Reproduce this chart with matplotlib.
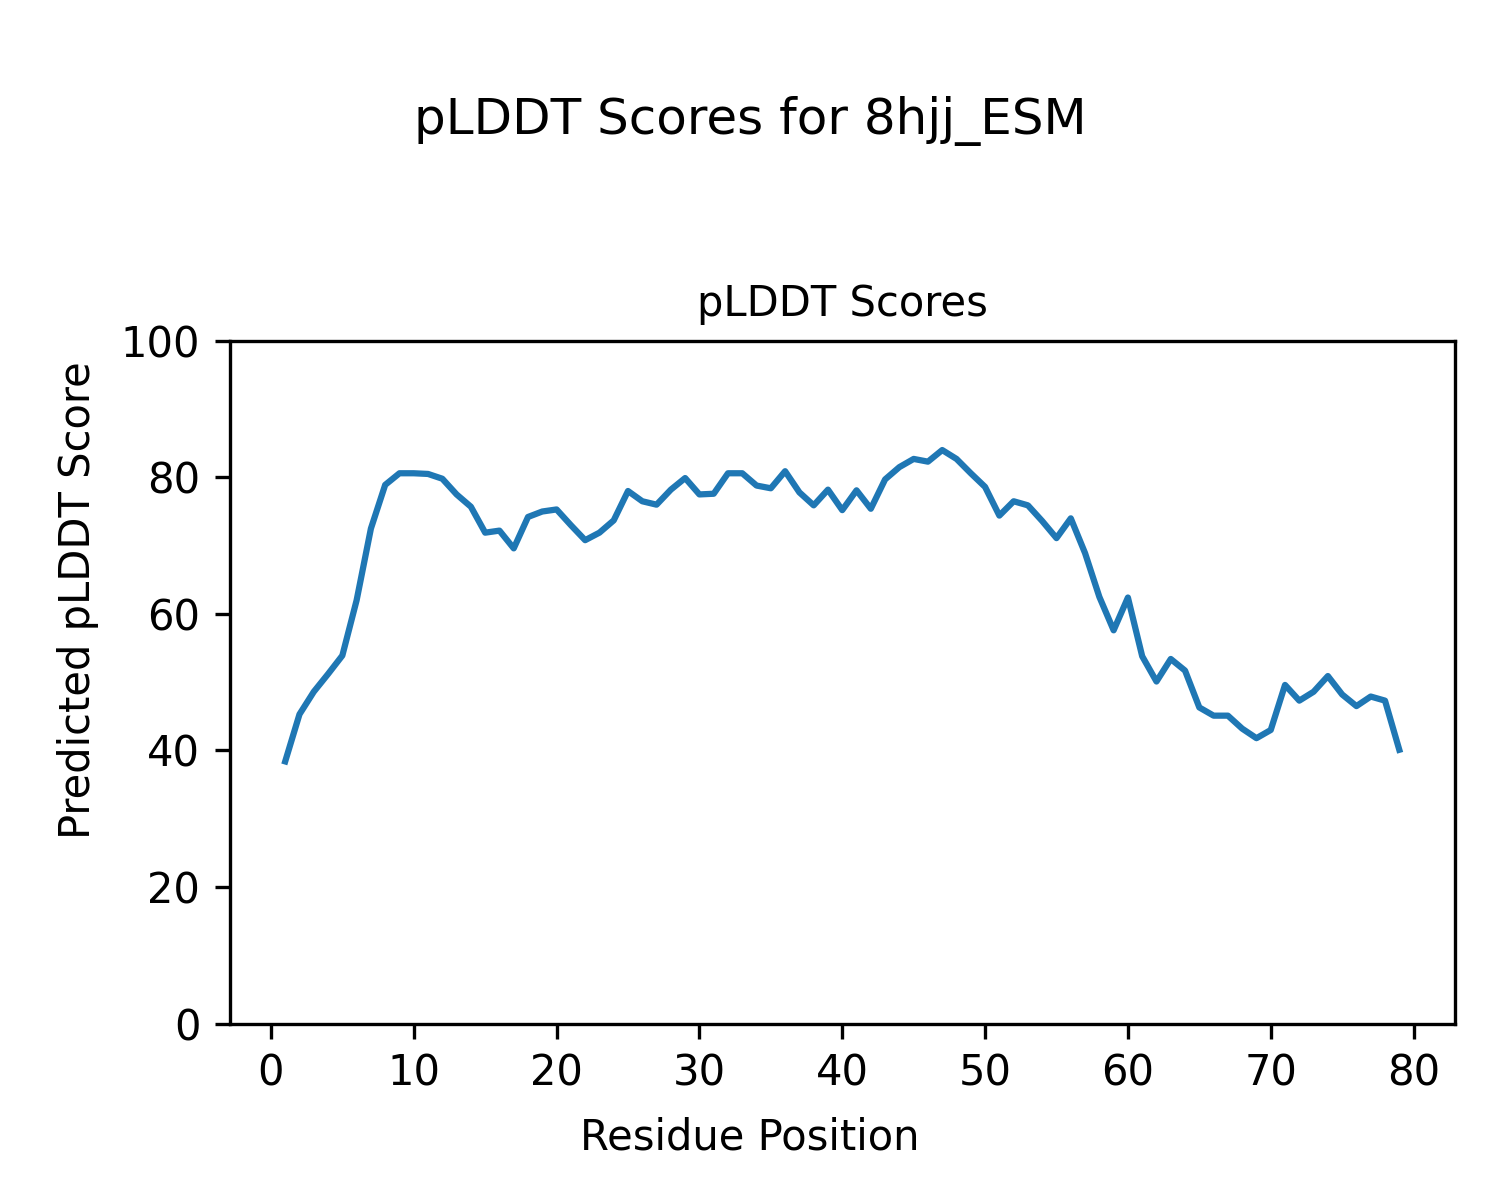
import matplotlib
matplotlib.use("Agg")
import matplotlib.pyplot as plt

# pLDDT per residue for 8hjj_ESM
residues = list(range(1, 80))
plddt = [38.4, 45.3, 48.6, 51.2, 53.9, 62.0, 72.5, 78.9, 80.6, 80.6,
         80.5, 79.8, 77.5, 75.7, 71.9, 72.2, 69.6, 74.2, 75.0, 75.3,
         73.0, 70.8, 71.9, 73.7, 78.0, 76.5, 76.0, 78.2, 79.9, 77.5,
         77.6, 80.6, 80.6, 78.8, 78.4, 80.9, 77.8, 75.9, 78.2, 75.2,
         78.1, 75.4, 79.7, 81.5, 82.7, 82.3, 84.0, 82.7, 80.6, 78.6,
         74.4, 76.5, 75.9, 73.6, 71.1, 74.0, 68.9, 62.5, 57.6, 62.4,
         53.8, 50.1, 53.4, 51.7, 46.3, 45.1, 45.1, 43.2, 41.8, 43.0,
         49.6, 47.3, 48.6, 50.9, 48.2, 46.5, 47.9, 47.3, 40.1]

fig = plt.figure(figsize=(5, 4), dpi=300)
ax = fig.add_axes([0.153, 0.147, 0.817, 0.569])
ax.plot(residues, plddt, color="#1f77b4", linewidth=1.5)
ax.set_ylim(0, 100)
ax.set_title("pLDDT Scores", fontsize=10)

# figure-level labels (centred on the figure, not the axes)
fig.text(0.5, 0.052, "Residue Position", ha="center", va="center")
fig.text(0.052, 0.5, "Predicted pLDDT Score", ha="center", va="center",
         rotation=90)
fig.suptitle("pLDDT Scores for 8hjj_ESM", fontsize=12, y=0.92)

fig.savefig("out.png", dpi=300)
